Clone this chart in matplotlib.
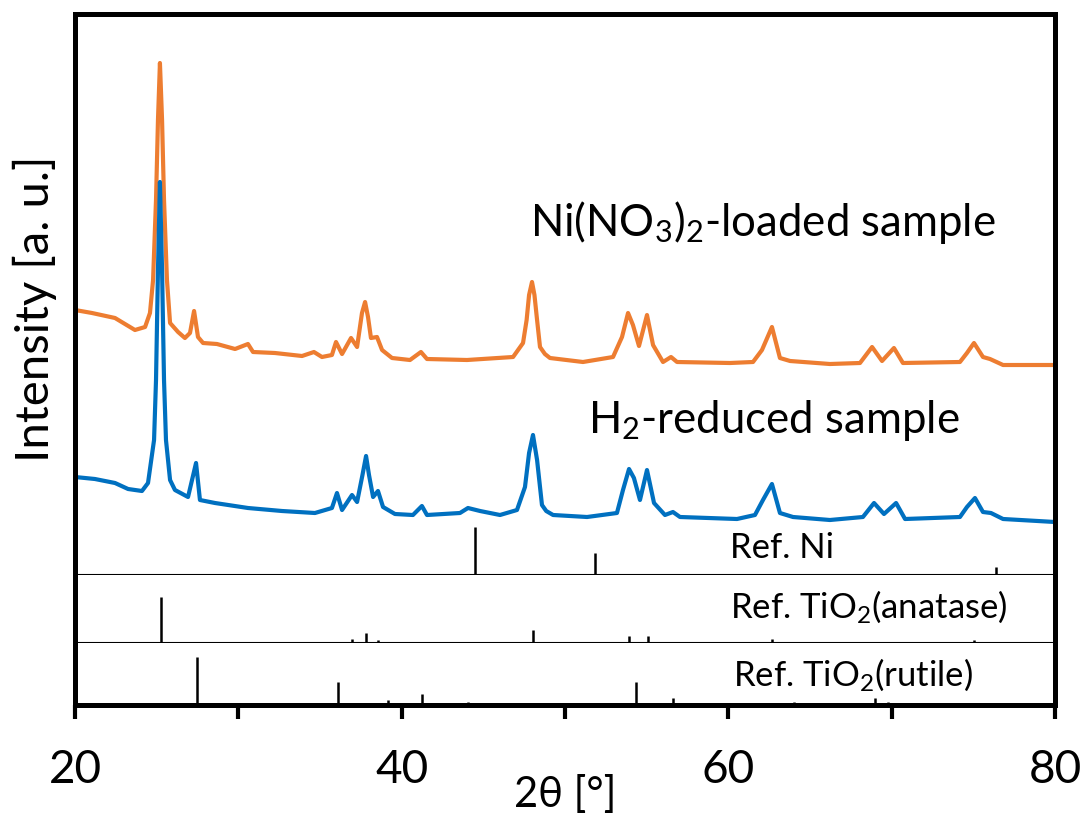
import matplotlib
matplotlib.use("Agg")
import matplotlib.pyplot as plt

plt.rcParams['font.family'] = ['Lato', 'DejaVu Sans']
plt.rcParams['mathtext.fontset'] = 'custom'
plt.rcParams['mathtext.rm'] = 'Lato'
plt.rcParams['mathtext.it'] = 'Lato:italic'
plt.rcParams['mathtext.bf'] = 'Lato:bold'

# --- data (2theta in deg, intensity in a.u.) ---
tt_nitrate = [20.00, 21.04, 22.45, 23.67, 24.29, 24.59, 24.78, 24.96, 25.08, 25.20, 25.33, 25.45, 25.63, 25.82,
              26.31, 26.73, 27.04, 27.29, 27.53, 27.84, 28.69, 29.80, 30.59, 30.90, 32.24, 33.90, 34.63, 35.12,
              35.73, 35.98, 36.35, 36.90, 37.27, 37.57, 37.76, 37.94, 38.12, 38.49, 38.80, 39.41, 40.51, 41.18,
              41.55, 44.00, 46.82, 47.43, 47.65, 47.80, 47.98, 48.13, 48.29, 48.47, 48.77, 49.08, 51.10, 52.94,
              53.49, 53.86, 54.16, 54.53, 55.02, 55.39, 56.00, 56.49, 56.86, 60.10, 61.51, 62.06, 62.67, 63.16,
              63.78, 66.22, 68.06, 68.80, 69.41, 70.14, 70.69, 74.18, 74.61, 75.04, 75.59, 76.02, 76.82, 80.00]
int_nitrate = [265, 262, 257, 245, 248, 262, 295, 375, 455, 512, 455, 375, 295, 252,
               243, 237, 242, 264, 238, 232, 231, 226, 231, 223, 222, 219, 223, 218,
               220, 233, 221, 237, 228, 262, 273, 258, 237, 238, 225, 217, 215, 223,
               216, 215, 218, 232, 255, 280, 293, 280, 255, 228, 221, 217, 213, 218,
               238, 262, 250, 229, 260, 230, 213, 218, 213, 212, 213, 225, 248, 217,
               214, 211, 212, 228, 214, 227, 212, 213, 222, 232, 218, 216, 210, 210]

tt_reduced = [20.00, 21.22, 22.45, 23.25, 24.10, 24.47, 24.84, 24.96, 25.08, 25.20, 25.33, 25.45, 25.57, 25.82,
              26.12, 26.92, 27.41, 27.65, 28.57, 30.59, 32.67, 34.69, 35.73, 36.04, 36.35, 36.96, 37.27, 37.60,
              37.82, 38.00, 38.25, 38.55, 38.86, 39.59, 40.69, 41.24, 41.55, 43.57, 44.06, 44.80, 46.02, 47.06,
              47.55, 47.80, 48.04, 48.29, 48.59, 48.85, 49.27, 51.35, 53.18, 53.55, 53.92, 54.22, 54.59, 55.02,
              55.45, 56.12, 56.61, 57.04, 60.53, 61.63, 62.12, 62.67, 63.16, 63.96, 66.22, 68.24, 68.92, 69.53,
              70.27, 70.82, 74.18, 74.61, 75.10, 75.59, 76.08, 76.82, 80.00]
int_reduced = [98, 96, 92, 86, 84, 92, 135, 195, 305, 393, 305, 195, 135, 95,
               85, 78, 112, 75, 72, 67, 64, 62, 67, 82, 65, 80, 73, 100,
               119, 100, 78, 84, 68, 61, 60, 69, 60, 62, 67, 64, 60, 65,
               88, 122, 140, 115, 70, 64, 60, 58, 62, 85, 106, 97, 75, 105,
               72, 60, 63, 58, 56, 60, 75, 91, 62, 58, 55, 58, 72, 61,
               72, 56, 58, 68, 77, 63, 62, 56, 53]

ref_ni_pos = [44.50, 51.85, 76.40]
ref_ni_int = [48, 22, 8]

ref_anatase_pos = [25.28, 36.95, 37.80, 38.57, 48.05, 53.89, 55.06, 62.69, 68.76, 70.31, 75.03, 76.02]
ref_anatase_int = [46, 4, 10, 3, 13, 7, 7, 4, 1.5, 1.5, 3.5, 1.5]

ref_rutile_pos = [27.45, 36.09, 39.19, 41.23, 44.05, 54.32, 56.64, 62.74, 64.04, 69.01, 69.79]
ref_rutile_int = [48, 23, 5, 11, 3, 23, 7, 2.5, 3, 7, 3]

orange = '#ED7D31'
blue = '#0070C0'
thick = 3.6
thin = 1.5

fig = plt.figure(figsize=(10.83, 8.16), dpi=100)
gs = fig.add_gridspec(3, 1, height_ratios=[561, 68, 62], hspace=0,
                      left=75/1083, right=1055/1083, bottom=1-705/816, top=1-14/816)
ax = fig.add_subplot(gs[0])
ax_a = fig.add_subplot(gs[1], sharex=ax)
ax_r = fig.add_subplot(gs[2], sharex=ax)

ax.plot(tt_nitrate, int_nitrate, color=orange, lw=3.0, solid_joinstyle='round')
ax.plot(tt_reduced, int_reduced, color=blue, lw=3.0, solid_joinstyle='round')
ax.vlines(ref_ni_pos, 0, ref_ni_int, color='black', lw=1.8)
ax.set_ylim(0, 561)

ax_a.vlines(ref_anatase_pos, 0, ref_anatase_int, color='black', lw=1.8)
ax_a.set_ylim(0, 68)
ax_r.vlines(ref_rutile_pos, 0, ref_rutile_int, color='black', lw=1.8)
ax_r.set_ylim(0, 62)

ax.set_xlim(20, 80)

for a in (ax, ax_a, ax_r):
    a.set_yticks([])
    a.spines['left'].set_linewidth(thick)
    a.spines['right'].set_linewidth(thick)
    a.tick_params(axis='x', which='both', bottom=False, labelbottom=False)
ax.spines['top'].set_linewidth(thick)
ax.spines['bottom'].set_linewidth(thin)
ax_a.spines['top'].set_visible(False)
ax_a.spines['bottom'].set_linewidth(thin)
ax_r.spines['top'].set_visible(False)
ax_r.spines['bottom'].set_linewidth(thick)

ax_r.set_xticks([20, 40, 60, 80])
ax_r.set_xticks([30, 50, 70], minor=True)
ax_r.tick_params(axis='x', which='both', bottom=True, labelbottom=True, direction='out',
                 length=10, width=3, labelsize=33, pad=22)

ax_r.set_xlabel('2θ [°]', fontsize=30, labelpad=-12)
fig.text(35/1083, 1-309/816, 'Intensity [a. u.]', rotation=90, fontsize=34, ha='center', va='center')

ax.text(47.86, 353, r'Ni(NO$\mathregular{_3}$)$\mathregular{_2}$-loaded sample', fontsize=31.5, ha='left', va='center')
ax.text(51.41, 155, r'H$\mathregular{_2}$-reduced sample', fontsize=31.5, ha='left', va='center')
ax.text(60.1, 27, 'Ref. Ni', fontsize=25, ha='left', va='center')
ax_a.text(60.1, 36, r'Ref. TiO$\mathregular{_2}$(anatase)', fontsize=25, ha='left', va='center')
ax_r.text(60.3, 30, r'Ref. TiO$\mathregular{_2}$(rutile)', fontsize=25, ha='left', va='center')

plt.savefig('out.png', dpi=100)
